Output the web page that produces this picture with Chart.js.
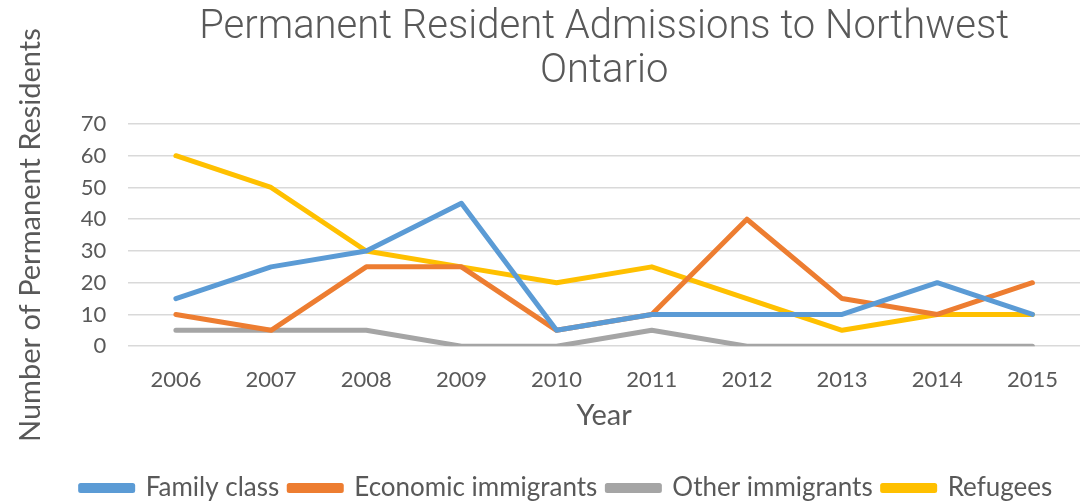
<!DOCTYPE html>
<html>
<head>
<meta charset="utf-8">
<script src="https://cdn.jsdelivr.net/npm/chart.js@4/dist/chart.umd.min.js"></script>
<style>
  html, body { margin: 0; padding: 0; background: #fff; }
  #wrap { width: 1089px; height: 502px; position: relative; }
</style>
</head>
<body>
<div id="wrap"><canvas id="prChart"></canvas></div>
<script>
// Jahre und Werte je Einwanderungskategorie
const years = ['2006', '2007', '2008', '2009', '2010', '2011', '2012', '2013', '2014', '2015'];
const familyClass = [15, 25, 30, 45, 5, 10, 10, 10, 20, 10];
const economicImmigrants = [10, 5, 25, 25, 5, 10, 40, 15, 10, 20];
const otherImmigrants = [5, 5, 5, 0, 0, 5, 0, 0, 0, 0];
const refugees = [60, 50, 30, 25, 20, 25, 15, 5, 10, 10];

const textColor = '#595959';
const fontFamily = 'Lato, "DejaVu Sans", sans-serif';

// eine Linie je Kategorie, ohne Punkte
function line(label, data, color) {
    return {
        label: label,
        data: data,
        borderColor: color,
        backgroundColor: color,
        borderWidth: 5,
        pointRadius: 0,
        tension: 0,
        borderCapStyle: 'round',
        borderJoinStyle: 'round'
    };
}

// Legende etwas nach rechts unten verschieben
const legendShift = {
    id: 'legendShift',
    afterLayout(chart) {
        const lg = chart.legend;
        lg.left += 20; lg.right += 20;
        lg.top += 5; lg.bottom += 5;
    }
};

const ctx = document.getElementById('prChart').getContext('2d');
new Chart(ctx, {
    type: 'line',
    data: {
        labels: years,
        datasets: [
            line('Family class', familyClass, '#5B9BD5'),
            line('Economic immigrants', economicImmigrants, '#ED7D31'),
            line('Other immigrants', otherImmigrants, '#A5A5A5'),
            line('Refugees', refugees, '#FFC000')
        ]
    },
    plugins: [legendShift],
    options: {
        responsive: true,
        maintainAspectRatio: false,
        animation: false,
        layout: { padding: { left: 13, right: 9, top: 0, bottom: -4 } },
        plugins: {
            title: {
                display: true,
                fullSize: false,
                text: ['Permanent Resident Admissions to Northwest', 'Ontario'],
                color: textColor,
                font: { family: 'Roboto, sans-serif', size: 40, weight: '300', lineHeight: 1.1 },
                padding: { top: 6, bottom: 30 }
            },
            legend: {
                position: 'bottom',
                labels: {
                    color: textColor,
                    font: { family: fontFamily, size: 26 },
                    boxWidth: 52,
                    boxHeight: 5,
                    padding: 10
                }
            },
            tooltip: { enabled: false }
        },
        scales: {
            x: {
                offset: true,
                grid: { display: false },
                border: { display: false },
                ticks: { color: textColor, font: { family: fontFamily, size: 22, lineHeight: 1 }, padding: 15 },
                title: {
                    display: true,
                    text: 'Year',
                    color: textColor,
                    font: { family: fontFamily, size: 29 },
                    padding: { top: -8, bottom: 27 }
                }
            },
            y: {
                min: 0,
                max: 70,
                grid: { color: '#D9D9D9', lineWidth: 1.5, drawTicks: false },
                border: { display: false },
                ticks: { stepSize: 10, autoSkip: false, color: textColor, font: { family: fontFamily, size: 22 }, padding: 22 },
                title: {
                    display: true,
                    text: 'Number of Permanent Residents',
                    color: textColor,
                    font: { family: fontFamily, size: 29 },
                    padding: { top: 0, bottom: 11 }
                }
            }
        }
    }
});
</script>
</body>
</html>
